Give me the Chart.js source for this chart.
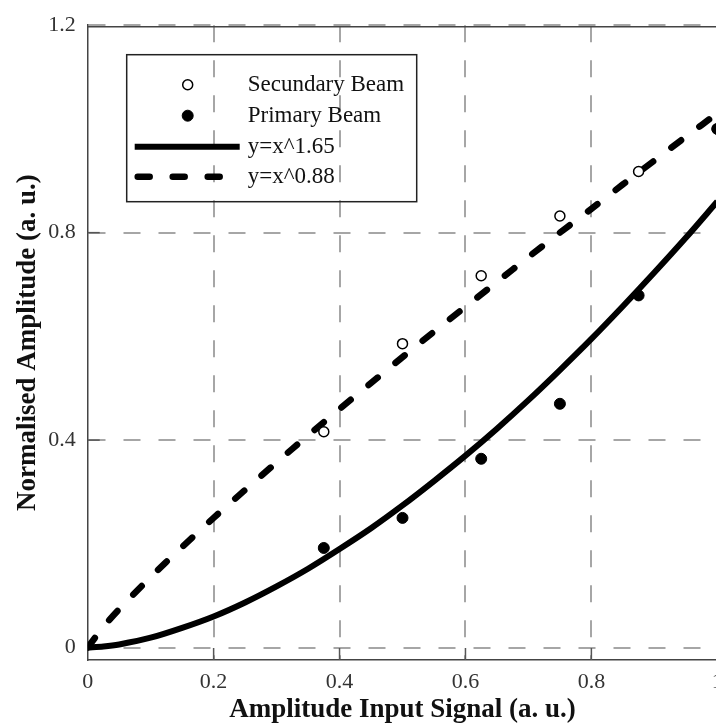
<!DOCTYPE html>
<html lang="en">
<head>
<meta charset="UTF-8">
<title>Normalised Amplitude vs Input Signal</title>
<style>
    html, body {
        margin: 0;
        padding: 0;
        background: #fff;
        overflow: hidden;
    }
    #wrap {
        width: 716px;
        height: 728px;
        overflow: hidden;
    }
    canvas { display: block; }
</style>
</head>
<body>
<div id="wrap"><canvas id="ampChart" width="760" height="728"></canvas></div>

<script src="https://cdn.jsdelivr.net/npm/chart.js"></script>
<script>
    // measured beams
    const inputLevels = [0.375, 0.5, 0.625, 0.75, 0.875, 1.0];
    const secundaryBeam = [0.416, 0.586, 0.717, 0.832, 0.918, 1.0];
    const primaryBeam = [0.192, 0.250, 0.364, 0.470, 0.679, 1.0];

    // fitted power curves, sampled along the input axis
    const curveX = [0, 0.025, 0.05, 0.1, 0.15, 0.2, 0.25, 0.3, 0.35, 0.4, 0.45, 0.5,
                    0.55, 0.6, 0.65, 0.7, 0.75, 0.8, 0.85, 0.9, 0.95, 1.0];
    const fitPrimary = [0, 0.002, 0.006, 0.019, 0.038, 0.060, 0.087, 0.118, 0.152, 0.190, 0.230, 0.274,
                        0.321, 0.370, 0.422, 0.477, 0.535, 0.595, 0.658, 0.723, 0.790, 0.860];
    const fitSecundary = [0, 0.040, 0.074, 0.136, 0.194, 0.250, 0.304, 0.357, 0.409, 0.460, 0.510, 0.560,
                          0.609, 0.657, 0.705, 0.753, 0.800, 0.846, 0.893, 0.939, 0.985, 1.030];

    const xTicks = [0, 0.2, 0.4, 0.6, 0.8, 1];
    const xTickLabels = ['0', '0.2', '0.4', '0.6', '0.8', '1'];
    const yTicks = [0, 0.4, 0.8, 1.2];
    const yTickLabels = ['0', '0.4', '0.8', '1.2'];

    const seriesNames = ['Secundary Beam', 'Primary Beam', 'y=x^1.65', 'y=x^0.88'];

    const toPoints = (xs, ys) => xs.map((x, i) => ({ x: x, y: ys[i] }));

    const serif = "'Liberation Serif', 'Times New Roman', serif";
    const gridDash = [17, 18];
    const fitDash = [12, 23];

    // top frame line and small inward tick marks
    const frame = {
        id: 'frame',
        beforeDatasetsDraw(chart) {
            const { ctx, chartArea, scales } = chart;
            ctx.save();
            ctx.strokeStyle = '#444';
            ctx.lineWidth = 1.5;
            ctx.beginPath();
            ctx.moveTo(chartArea.left, chartArea.top + 1.5);
            ctx.lineTo(chartArea.right + 2, chartArea.top + 1.5);
            ctx.stroke();

            ctx.strokeStyle = '#555';
            ctx.lineWidth = 1.5;
            xTicks.slice(1, -1).forEach(v => {
                const px = scales.x.getPixelForValue(v);
                ctx.beginPath();
                ctx.moveTo(px, chartArea.bottom);
                ctx.lineTo(px, chartArea.bottom - 12);
                ctx.stroke();
            });
            yTicks.slice(1, -1).forEach(v => {
                const py = scales.y.getPixelForValue(v);
                ctx.beginPath();
                ctx.moveTo(chartArea.left, py);
                ctx.lineTo(chartArea.left + 12, py);
                ctx.stroke();
            });
            ctx.restore();
        }
    };

    // boxed legend in the upper left of the plot
    const legendBox = {
        id: 'legendBox',
        afterDatasetsDraw(chart) {
            const { ctx, chartArea } = chart;
            const x0 = chartArea.left + 39;
            const y0 = chartArea.top + 29.5;
            const rows = [30, 61, 92, 122];

            ctx.save();
            ctx.strokeStyle = '#222';
            ctx.lineWidth = 1.5;
            ctx.strokeRect(x0, y0, 290, 147);

            chart.data.datasets.forEach((ds, i) => {
                const y = y0 + rows[i];
                if (ds.showLine) {
                    ctx.strokeStyle = ds.borderColor;
                    ctx.lineWidth = ds.borderWidth;
                    ctx.lineCap = ds.borderCapStyle || 'butt';
                    ctx.setLineDash(ds.borderDash || []);
                    ctx.beginPath();
                    if (ds.borderDash) {
                        ctx.moveTo(x0 + 11, y);
                        ctx.lineTo(x0 + 93, y);
                    } else {
                        ctx.moveTo(x0 + 8, y);
                        ctx.lineTo(x0 + 113, y);
                    }
                    ctx.stroke();
                    ctx.setLineDash([]);
                } else {
                    ctx.beginPath();
                    ctx.arc(x0 + 61, y, ds.pointRadius, 0, Math.PI * 2);
                    ctx.fillStyle = ds.pointBackgroundColor;
                    ctx.fill();
                    ctx.lineWidth = ds.pointBorderWidth;
                    ctx.strokeStyle = ds.pointBorderColor;
                    ctx.stroke();
                }
                ctx.fillStyle = '#111';
                ctx.font = '23px ' + serif;
                ctx.textAlign = 'left';
                ctx.textBaseline = 'middle';
                ctx.fillText(ds.label, x0 + 121, y);
            });
            ctx.restore();
        }
    };

    new Chart(document.getElementById('ampChart'), {
        type: 'scatter',
        data: {
            datasets: [
                {
                    label: seriesNames[0],
                    data: toPoints(inputLevels, secundaryBeam),
                    showLine: false,
                    pointRadius: 5,
                    pointBackgroundColor: '#fff',
                    pointBorderColor: '#000',
                    pointBorderWidth: 1.5,
                    order: 1
                },
                {
                    label: seriesNames[1],
                    data: toPoints(inputLevels, primaryBeam),
                    showLine: false,
                    pointRadius: 5.5,
                    pointBackgroundColor: '#000',
                    pointBorderColor: '#000',
                    pointBorderWidth: 1,
                    order: 0
                },
                {
                    label: seriesNames[2],
                    data: toPoints(curveX, fitPrimary),
                    showLine: true,
                    borderColor: '#000',
                    borderWidth: 6,
                    pointRadius: 0,
                    tension: 0.3,
                    order: 2
                },
                {
                    label: seriesNames[3],
                    data: toPoints(curveX, fitSecundary),
                    showLine: true,
                    borderColor: '#000',
                    borderWidth: 6.5,
                    borderDash: fitDash,
                    borderCapStyle: 'round',
                    pointRadius: 0,
                    tension: 0.3,
                    order: 2
                }
            ]
        },
        options: {
            responsive: false,
            animation: false,
            events: [],
            devicePixelRatio: 1,
            layout: {
                padding: { left: 0, right: 42.7, top: 15.5, bottom: 0 }
            },
            plugins: {
                legend: { display: false },
                tooltip: { enabled: false }
            },
            scales: {
                x: {
                    type: 'linear',
                    min: 0,
                    max: 1,
                    afterBuildTicks: s => { s.ticks = xTicks.map(v => ({ value: v })); },
                    afterFit: s => { s.height = 68; },
                    ticks: {
                        padding: 9,
                        color: '#333',
                        font: { family: serif, size: 22 },
                        maxRotation: 0,
                        callback: (v, i) => xTickLabels[i]
                    },
                    grid: {
                        drawTicks: false,
                        color: c => (c.tick && (c.tick.value === 0 || c.tick.value === 1)) ? 'rgba(0,0,0,0)' : '#a6a6a6',
                        lineWidth: 2
                    },
                    border: { display: true, color: '#444', width: 1.5, dash: gridDash },
                    title: {
                        display: true,
                        text: 'Amplitude Input Signal (a. u.)',
                        color: '#111',
                        font: { family: serif, size: 27, weight: 'bold', lineHeight: 1 },
                        padding: { top: 0, bottom: 4 }
                    }
                },
                y: {
                    type: 'linear',
                    min: -0.024,
                    max: 1.2,
                    afterBuildTicks: s => { s.ticks = yTicks.map(v => ({ value: v })); },
                    afterFit: s => { s.width = 87.7; },
                    ticks: {
                        padding: 12,
                        color: '#333',
                        font: { family: serif, size: 22 },
                        callback: (v, i) => yTickLabels[i]
                    },
                    grid: {
                        drawTicks: false,
                        color: '#a6a6a6',
                        lineWidth: 2
                    },
                    border: { display: true, color: '#444', width: 1.5, dash: gridDash },
                    title: {
                        display: true,
                        text: 'Normalised Amplitude (a. u.)',
                        color: '#111',
                        font: { family: serif, size: 27, weight: 'bold', lineHeight: 1 },
                        padding: { top: 15, bottom: 0 }
                    }
                }
            }
        },
        plugins: [frame, legendBox]
    });
</script>
</body>
</html>
